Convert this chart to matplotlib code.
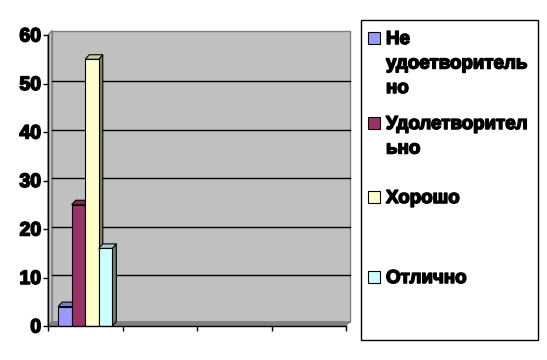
import numpy as np
import matplotlib
matplotlib.use("Agg")
import matplotlib.pyplot as plt
from matplotlib.patches import Polygon, Rectangle
from matplotlib.lines import Line2D
from matplotlib.transforms import IdentityTransform
import matplotlib.colors as mcolors
import matplotlib.patheffects as pe

# ---------------- data ----------------
categories = ["", "", "", ""]
series_names = ["Не удоетворительно", "Удолетворительно", "Хорошо", "Отлично"]
legend_labels = ["Не\nудоетворитель\nно", "Удолетворител\nьно", "Хорошо", "Отлично"]
values_ne_udovl = [4, np.nan, np.nan, np.nan]
values_udovl = [25, np.nan, np.nan, np.nan]
values_horosho = [55, np.nan, np.nan, np.nan]
values_otlichno = [16, np.nan, np.nan, np.nan]
series_values = [values_ne_udovl, values_udovl, values_horosho, values_otlichno]
colors = ["#9999FF", "#993366", "#FFFFCC", "#CCFFFF"]
yticks = [0, 10, 20, 30, 40, 50, 60]

# ---------------- layout ----------------
W, H = 547, 360
plt.rcParams["font.family"] = ["Liberation Sans", "DejaVu Sans"]
fig = plt.figure(figsize=(W / 100, H / 100), dpi=100)
fig.patch.set_facecolor("white")
heavy = [pe.withStroke(linewidth=1.1, foreground="black")]

ax_left, ax_right, ax_top, ax_bottom = 48, 346, 35, 326
ax = fig.add_axes([ax_left / W, (H - ax_bottom) / H,
                   (ax_right - ax_left) / W, (ax_bottom - ax_top) / H])
ax.set_facecolor("none")
ncat = len(categories)
ax.set_xlim(0, ncat)
ax.set_ylim(yticks[0], yticks[-1])

ident = IdentityTransform()
dx, dy = 4.0, 4.5   # 3-D depth offset in pixels
gdy = 2.5           # gridline lift

(x0, y0) = ax.transData.transform((0, yticks[0]))
(x1, y1) = ax.transData.transform((ncat, yticks[-1]))

# back wall
ax.add_patch(Polygon([(x0 + dx, y0 + dy), (x1 + dx, y0 + dy), (x1 + dx, y1 + dy), (x0 + dx, y1 + dy)],
                     closed=True, transform=ident, facecolor="#C0C0C0", edgecolor="#808080",
                     lw=1, zorder=0.5, clip_on=False))
# side wall
ax.add_patch(Polygon([(x0, y0), (x0 + dx, y0 + dy), (x0 + dx, y1 + dy), (x0, y1)],
                     closed=True, transform=ident, facecolor="#C0C0C0", edgecolor="#808080",
                     lw=1, zorder=0.6, clip_on=False))
# floor
ax.add_patch(Polygon([(x0, y0), (x1, y0), (x1 + dx, y0 + dy), (x0 + dx, y0 + dy)],
                     closed=True, transform=ident, facecolor="#808080", edgecolor="#808080",
                     lw=0.5, zorder=0.7, clip_on=False))
# gridlines on back wall
for v in yticks[1:-1]:
    yy = ax.transData.transform((0, v))[1] + gdy
    ax.add_line(Line2D([x0 + dx, x1 + dx], [yy, yy], transform=ident, color="black",
                       lw=1, zorder=0.8, clip_on=False))

# bars
nser = len(series_values)
w = 1.0 / (nser + 1.5)
cat_idx = np.arange(ncat)
for j, (vals, col) in enumerate(zip(series_values, colors)):
    xs = cat_idx + 0.5 - nser * w / 2 + j * w
    bars = ax.bar(xs, vals, width=w, align="edge", color=col, edgecolor="black",
                  lw=0.8, zorder=10 + 3 * j + 2)
    rgb = np.array(mcolors.to_rgb(col))
    side_col = rgb * 0.5
    top_col = rgb * 0.8
    for b in bars:
        h = b.get_height()
        if not np.isfinite(h):
            continue
        bx0, by0 = ax.transData.transform((b.get_x(), 0))
        bx1, by1 = ax.transData.transform((b.get_x() + b.get_width(), h))
        ax.add_patch(Polygon([(bx1, by0), (bx1 + dx, by0 + dy), (bx1 + dx, by1 + dy), (bx1, by1)],
                             closed=True, transform=ident, facecolor=side_col, edgecolor="black",
                             lw=0.8, zorder=10 + 3 * j, clip_on=False))
        ax.add_patch(Polygon([(bx0, by1), (bx1, by1), (bx1 + dx, by1 + dy), (bx0 + dx, by1 + dy)],
                             closed=True, transform=ident, facecolor=top_col, edgecolor="black",
                             lw=0.8, zorder=10 + 3 * j + 1, clip_on=False))

# axes styling
for s in ["top", "right"]:
    ax.spines[s].set_visible(False)
for s in ["left", "bottom"]:
    ax.spines[s].set_color("black")
    ax.spines[s].set_linewidth(1)
    ax.spines[s].set_zorder(50)
ax.set_yticks(yticks)
ax.set_yticklabels([str(t) for t in yticks], fontsize=14, fontweight="bold")
for t in ax.get_yticklabels():
    t.set_path_effects(heavy)
ax.set_xticks(np.arange(ncat + 1))
ax.set_xticklabels([""] * (ncat + 1))
ax.tick_params(axis="both", direction="out", length=3.5, width=1, color="black", pad=1.5)

# legend (manual, Excel style)
lg_l, lg_r, lg_t, lg_b = 361, 538, 20, 340
fig.add_artist(Rectangle((lg_l, H - lg_b), lg_r - lg_l, lg_b - lg_t, transform=ident,
                         fill=False, edgecolor="black", lw=1))
baselines = [44, 129, 203, 283]
line_step = 24.5
sq = 12
for lab, col, bl in zip(legend_labels, colors, baselines):
    cy = bl - 6.5
    fig.add_artist(Rectangle((368, H - cy - sq / 2), sq, sq, transform=ident,
                             facecolor=col, edgecolor="black", lw=0.8))
    for k, line in enumerate(lab.split("\n")):
        fig.text(386 / W, (H - (bl + k * line_step)) / H, line, fontsize=13.5,
                 fontweight="bold", va="baseline", ha="left", path_effects=heavy)

fig.savefig("out.png", dpi=100)
